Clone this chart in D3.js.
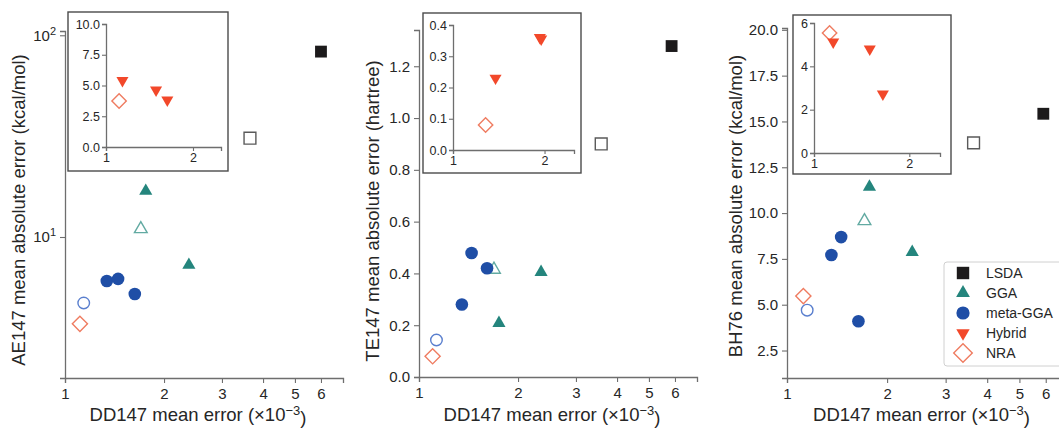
<!DOCTYPE html>
<html>
<head>
<meta charset="utf-8">
<script src="https://cdn.jsdelivr.net/npm/d3@7"></script>
<style>
  html, body { margin: 0; padding: 0; background: #fff; }
  svg { display: block; font-family: "Liberation Sans", Arial, sans-serif; }
</style>
</head>
<body>
<svg id="chart" width="1059" height="429"></svg>
<script>
// ---------------- DATA ----------------
const categories = ["LSDA", "GGA", "meta-GGA", "Hybrid", "NRA"];
const xTicksMain = [1, 2, 3, 4, 5, 6];
const xTicksInset = [1, 2];

// [marker series, DD147 mean error (x1e-3), y value]
const ae147Points = [
  ["LSDA", 6.0, 83],
  ["LSDA open", 3.65, 30.9],
  ["GGA", 1.76, 16.9],
  ["GGA open", 1.70, 10.96],
  ["GGA", 2.38, 7.26],
  ["meta-GGA", 1.34, 6.05],
  ["meta-GGA", 1.45, 6.2],
  ["meta-GGA", 1.63, 5.22],
  ["meta-GGA open", 1.14, 4.71],
  ["NRA", 1.11, 3.71]
];
const ae147Inset = [
  ["NRA", 1.11, 3.74],
  ["Hybrid", 1.14, 5.4],
  ["Hybrid", 1.49, 4.63],
  ["Hybrid", 1.63, 3.82]
];
const ae147YTicks = [10, 100];
const ae147InsetYTicks = [0, 2.5, 5, 7.5, 10];

const te147Points = [
  ["LSDA", 5.86, 1.278],
  ["LSDA open", 3.58, 0.90],
  ["GGA", 2.35, 0.405],
  ["GGA", 1.75, 0.208],
  ["GGA open", 1.69, 0.415],
  ["meta-GGA", 1.445, 0.479],
  ["meta-GGA", 1.61, 0.42],
  ["meta-GGA", 1.35, 0.28],
  ["meta-GGA open", 1.13, 0.143],
  ["NRA", 1.10, 0.08]
];
const te147Inset = [
  ["NRA", 1.28, 0.08],
  ["Hybrid", 1.38, 0.23],
  ["Hybrid", 1.93, 0.36],
  ["Hybrid", 1.95, 0.355]
];
const te147YTicks = [0, 0.2, 0.4, 0.6, 0.8, 1.0, 1.2];
const te147InsetYTicks = [0, 0.1, 0.2, 0.3, 0.4];

const bh76Points = [
  ["LSDA", 5.9, 15.42],
  ["LSDA open", 3.64, 13.83],
  ["GGA", 1.77, 11.43],
  ["GGA", 2.38, 7.87],
  ["GGA open", 1.71, 9.57],
  ["meta-GGA", 1.455, 8.69],
  ["meta-GGA", 1.36, 7.71],
  ["meta-GGA", 1.64, 4.1],
  ["meta-GGA open", 1.15, 4.7],
  ["NRA", 1.12, 5.47]
];
const bh76Inset = [
  ["NRA", 1.12, 5.54],
  ["Hybrid", 1.15, 5.12],
  ["Hybrid", 1.5, 4.8],
  ["Hybrid", 1.65, 2.72]
];
const bh76YTicks = [2.5, 5, 7.5, 10, 12.5, 15, 17.5, 20];
const bh76InsetYTicks = [0, 2, 4, 6];

// ---------------- STYLES ----------------
const styles = {
  "LSDA":          { shape: "square",  fill: "#1c1a1b", stroke: "none",    size: 140 },
  "LSDA open":     { shape: "square",  fill: "#fff",    stroke: "#5a5a5a", size: 140 },
  "GGA":           { shape: "tri",     fill: "#24857d", stroke: "none",    size: 75 },
  "GGA open":      { shape: "tri",     fill: "#fff",    stroke: "#62aaa2", size: 70 },
  "meta-GGA":      { shape: "circle",  fill: "#1f4ea6", stroke: "none",    size: 125 },
  "meta-GGA open": { shape: "circle",  fill: "#fff",    stroke: "#5a7fce", size: 105 },
  "Hybrid":        { shape: "tridown", fill: "#f2482a", stroke: "none",    size: 70 },
  "NRA":           { shape: "diamond", fill: "#fff",    stroke: "#ef7c61", size: 115 }
};
function symbolPath(st, scale = 1) {
  const type = st.shape === "square" || st.shape === "diamond" ? d3.symbolSquare
    : st.shape === "circle" ? d3.symbolCircle : d3.symbolTriangle;
  return d3.symbol().type(type).size(st.size * scale)();
}
function rotation(st) {
  return st.shape === "diamond" ? 45 : st.shape === "tridown" ? 180 : 0;
}
function drawMarkers(g, pts, x, y, scale = 1) {
  g.selectAll(null).data(pts).join("path")
    .attr("d", d => symbolPath(styles[d[0]], scale))
    .attr("transform", d => `translate(${x(d[1])},${y(d[2])}) rotate(${rotation(styles[d[0]])})`)
    .attr("fill", d => styles[d[0]].fill)
    .attr("stroke", d => styles[d[0]].stroke)
    .attr("stroke-width", 1.4);
}

const svg = d3.select("#chart");
const AXIS = "#6e6e6e", TXT = "#262626";

function styleAxis(g, fs) {
  g.select(".domain").attr("stroke", AXIS).attr("stroke-width", 1.3);
  g.selectAll(".tick line").attr("stroke", AXIS).attr("stroke-width", 1.1);
  g.selectAll(".tick text").attr("fill", TXT).attr("font-size", fs)
    .attr("font-family", "Liberation Sans, Arial, sans-serif");
}

function panel(cfg) {
  const g = svg.append("g");
  const x = d3.scaleLog().domain([1, 7]).range(cfg.xr);
  const y = (cfg.logY ? d3.scaleLog() : d3.scaleLinear()).domain(cfg.yd).range(cfg.yr);

  // x axis
  const gx = g.append("g").attr("transform", `translate(0,${cfg.yr[0]})`)
    .call(d3.axisBottom(x).tickValues(xTicksMain).tickFormat(d3.format("d")).tickSizeOuter(0).tickSize(5).tickPadding(5));
  styleAxis(gx, 15);
  // y axis
  const gy = g.append("g").attr("transform", `translate(${cfg.xr[0]},0)`)
    .call(d3.axisLeft(y).tickValues(cfg.yTicks).tickSizeOuter(0).tickSize(5).tickPadding(4)
      .tickFormat(cfg.logY ? (() => "") : d3.format(cfg.yFmt)));
  styleAxis(gy, 15);
  if (cfg.logY) {
    gy.selectAll(".tick text").each(function (d) {
      const t = d3.select(this);
      t.text("");
      t.append("tspan").text("10");
      t.append("tspan").attr("dy", "-0.55em").attr("font-size", 11).text(Math.round(Math.log10(d)));
    });
  }

  // markers
  drawMarkers(g.append("g"), cfg.points, x, y);

  // axis titles
  const xt = g.append("text")
    .attr("x", (cfg.xr[0] + cfg.xr[1]) / 2 - 6).attr("y", 421)
    .attr("text-anchor", "middle").attr("font-size", 18.5).attr("fill", TXT);
  xt.append("tspan").text("DD147 mean error (×10");
  xt.append("tspan").attr("dy", "-0.5em").attr("font-size", 13).text("−3");
  xt.append("tspan").attr("dy", "0.5em").text(")");

  g.append("text")
    .attr("transform", `translate(${cfg.ylx},${cfg.yly}) rotate(-90)`)
    .attr("text-anchor", "middle").attr("font-size", 18.5).attr("fill", TXT)
    .text(cfg.yLabel);

  // inset
  const b = cfg.box;
  const ig = g.append("g");
  ig.append("rect").attr("x", b[0]).attr("y", b[1]).attr("width", b[2] - b[0]).attr("height", b[3] - b[1])
    .attr("fill", "#fff").attr("stroke", "#4a4a4a").attr("stroke-width", 1.4);
  const ix = d3.scaleLog().domain([1, 2.5]).range(cfg.ixr);
  const iy = d3.scaleLinear().domain(cfg.iyd).range(cfg.iyr);
  const igx = ig.append("g").attr("transform", `translate(0,${cfg.iyr[0]})`)
    .call(d3.axisBottom(ix).tickValues(xTicksInset).tickFormat(d3.format("d")).tickSizeOuter(0).tickSize(4).tickPadding(2));
  styleAxis(igx, 12.5);
  const igy = ig.append("g").attr("transform", `translate(${cfg.ixr[0]},0)`)
    .call(d3.axisLeft(iy).tickValues(cfg.iyTicks).tickFormat(d3.format(cfg.iyFmt)).tickSizeOuter(0).tickSize(4).tickPadding(2));
  styleAxis(igy, 12.5);
  drawMarkers(ig.append("g"), cfg.inset, ix, iy, 0.9);
  return g;
}

panel({
  xr: [65, 343], logY: true, yd: [2, 105], yr: [378, 31], yTicks: ae147YTicks,
  points: ae147Points, yLabel: "AE147 mean absolute error (kcal/mol)", ylx: 25, yly: 210,
  box: [68, 12, 228, 171], ixr: [106, 221], iyd: [0, 10], iyr: [147, 24],
  iyTicks: ae147InsetYTicks, iyFmt: ".1f", inset: ae147Inset
});
panel({
  xr: [419, 697], logY: false, yd: [0, 1.34], yr: [377, 30], yTicks: te147YTicks, yFmt: ".1f",
  points: te147Points, yLabel: "TE147 mean absolute error (hartree)", ylx: 379, yly: 211,
  box: [423, 13, 581, 173], ixr: [453, 574], iyd: [0, 0.4], iyr: [150, 25],
  iyTicks: te147InsetYTicks, iyFmt: ".1f", inset: te147Inset
});
panel({
  xr: [787, 1068], logY: false, yd: [1, 20.1], yr: [378, 28], yTicks: bh76YTicks, yFmt: ".1f",
  points: bh76Points, yLabel: "BH76 mean absolute error (kcal/mol)", ylx: 742, yly: 206,
  box: [793, 15, 951, 174], ixr: [814, 940], iyd: [0, 6], iyr: [153, 23],
  iyTicks: bh76InsetYTicks, iyFmt: "d", inset: bh76Inset
});

// legend
const legendKeys = ["LSDA", "GGA", "meta-GGA", "Hybrid", "NRA"];
const lg = svg.append("g");
lg.append("rect").attr("x", 944).attr("y", 262).attr("width", 130).attr("height", 104).attr("rx", 3)
  .attr("fill", "#fff").attr("stroke", "#d0d0d0").attr("stroke-width", 1);
const ly = d3.scalePoint().domain(categories).range([273, 353]);
legendKeys.forEach(k => {
  const st = styles[k];
  lg.append("path").attr("d", symbolPath(st, k === "NRA" ? 1.5 : 1.1))
    .attr("transform", `translate(963,${ly(k)}) rotate(${rotation(st)})`)
    .attr("fill", st.fill).attr("stroke", st.stroke).attr("stroke-width", 1.4);
  lg.append("text").attr("x", 986).attr("y", ly(k) + 5).attr("font-size", 14).attr("fill", TXT).text(k);
});
</script>
</body>
</html>
